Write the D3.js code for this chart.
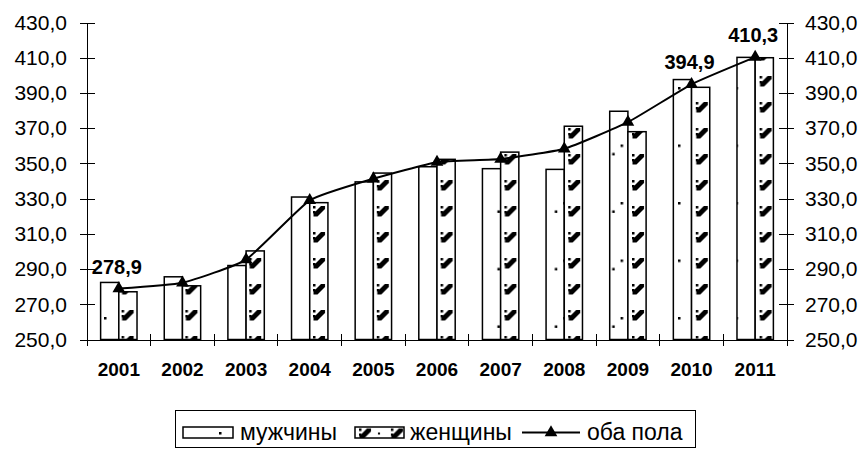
<!DOCTYPE html>
<html>
<head>
<meta charset="utf-8">
<script src="https://d3js.org/d3.v7.min.js"></script>
<style>
    body { margin: 0; background: #fff; }
    text { font-family: "Liberation Sans", Arial, sans-serif; fill: #000; }
    .axis path, .axis line { stroke: #000; stroke-width: 1px; shape-rendering: crispEdges; }
    .axis text { font-size: 21px; }
    .year text { font-size: 19px; font-weight: bold; }
    .bar { stroke: #000; stroke-width: 1.5px; }
    .lbl { font-size: 20px; font-weight: bold; text-anchor: middle; }
    .leg text { font-size: 23px; }
</style>
</head>
<body>
<script>
    // Data
    var years = ["2001", "2002", "2003", "2004", "2005", "2006", "2007", "2008", "2009", "2010", "2011"];
    var men = [282.4, 285.6, 292.0, 330.9, 339.5, 348.1, 347.0, 346.6, 379.6, 397.6, 410.2];
    var women = [277.1, 280.5, 300.3, 327.7, 344.5, 352.3, 356.4, 371.1, 368.0, 393.2, 410.0];
    var both = [278.9, 282.2, 295.4, 329.0, 341.3, 350.7, 352.5, 358.3, 373.4, 394.9, 410.3];
    var yTicks = [250, 270, 290, 310, 330, 350, 370, 390, 410, 430];
    var labelled = ["2001", "2010", "2011"];
    var legendNames = ["мужчины", "женщины", "оба пола"];

    var W = 864, H = 449;
    var fmt = function (v) { return d3.format(".1f")(v).replace(".", ","); };

    var svg = d3.select("body").append("svg")
        .attr("width", W)
        .attr("height", H);

    // patterns (Excel-like fills)
    var defs = svg.append("defs");

    function menPattern(id, px, py) {
        var p = defs.append("pattern")
            .attr("id", id)
            .attr("patternUnits", "userSpaceOnUse")
            .attr("x", px).attr("y", py)
            .attr("width", 57.4).attr("height", 57.5);
        p.append("rect").attr("width", 57.4).attr("height", 57.5).attr("fill", "#fff");
        p.append("rect").attr("x", 0).attr("y", 0).attr("width", 2.5).attr("height", 2.5).attr("fill", "#000");
        p.append("rect").attr("x", 49).attr("y", 8.4).attr("width", 2.5).attr("height", 2.5).attr("fill", "#000");
    }

    function womenPattern(id, px, py) {
        var p = defs.append("pattern")
            .attr("id", id)
            .attr("patternUnits", "userSpaceOnUse")
            .attr("x", px).attr("y", py)
            .attr("width", 31.9).attr("height", 26);
        p.append("rect").attr("width", 31.9).attr("height", 26).attr("fill", "#fff");
        p.append("rect").attr("x", 0).attr("y", 0).attr("width", 2.5).attr("height", 2.5).attr("fill", "#000");
        p.append("rect").attr("x", 0).attr("y", 5).attr("width", 2.5).attr("height", 2.5).attr("fill", "#000");
        p.append("path").attr("d", "M8,0 h4 v3 l-7.5,7.5 h-4 v-3 z").attr("fill", "#000");
        p.append("rect").attr("x", 19).attr("y", 4).attr("width", 2).attr("height", 2).attr("fill", "#000");
        p.append("rect").attr("x", 19).attr("y", 17).attr("width", 2).attr("height", 2).attr("fill", "#000");
    }

    menPattern("pm", 104, 202);
    womenPattern("pw", 313, 154);
    menPattern("pmL", 219, 432);
    womenPattern("pwL", 359, 428.5);

    // scales
    var x = d3.scaleBand().domain(years).range([87, 787]).padding(0);
    var y = d3.scaleLinear().domain([250, 430]).range([339.5, 22.5]);
    var bw = 18.2;
    var cx = function (d) { return x(d) + x.bandwidth() / 2; };

    // bars
    var rows = years.map(function (d, i) { return { year: d, m: men[i], w: women[i], b: both[i] }; });

    svg.append("g").selectAll("rect").data(rows).enter().append("rect")
        .attr("class", "bar")
        .attr("x", function (d) { return cx(d.year) - bw; })
        .attr("y", function (d) { return y(d.m); })
        .attr("width", bw)
        .attr("height", function (d) { return y(250) - y(d.m); })
        .attr("fill", "url(#pm)");

    svg.append("g").selectAll("rect").data(rows).enter().append("rect")
        .attr("class", "bar")
        .attr("x", function (d) { return cx(d.year); })
        .attr("y", function (d) { return y(d.w); })
        .attr("width", bw)
        .attr("height", function (d) { return y(250) - y(d.w); })
        .attr("fill", "url(#pw)");

    // axes
    var gl = svg.append("g").attr("class", "axis")
        .attr("transform", "translate(87,0)")
        .call(d3.axisLeft(y).tickValues(yTicks).tickFormat(fmt).tickSize(0).tickSizeOuter(0).tickPadding(20));
    gl.selectAll(".tick line").attr("x1", -7).attr("x2", 8);

    var gr = svg.append("g").attr("class", "axis")
        .attr("transform", "translate(787,0)")
        .call(d3.axisRight(y).tickValues(yTicks).tickFormat(fmt).tickSize(0).tickSizeOuter(0).tickPadding(18));
    gr.selectAll(".tick line").attr("x1", -8).attr("x2", 7);

    var gx = svg.append("g").attr("class", "axis year")
        .attr("transform", "translate(0," + y(250) + ")")
        .call(d3.axisBottom(x).tickSize(0).tickSizeOuter(0).tickPadding(23));
    gx.selectAll(".tick line").remove();

    // category separators crossing the base line
    var seps = years.map(function (d) { return x(d); }).concat([x.range()[1]]);
    gx.selectAll("line.sep").data(seps).enter().append("line")
        .attr("class", "sep")
        .attr("x1", function (d) { return d; })
        .attr("x2", function (d) { return d; })
        .attr("y1", -6)
        .attr("y2", 6);

    // line for both sexes
    var line = d3.line()
        .x(function (d) { return cx(d.year); })
        .y(function (d) { return y(d.b); })
        .curve(d3.curveCardinal.tension(0.55));

    svg.append("path").datum(rows)
        .attr("d", line)
        .attr("fill", "none")
        .attr("stroke", "#000")
        .attr("stroke-width", 2);

    var tri = d3.symbol().type(d3.symbolTriangle).size(70);
    svg.append("g").selectAll("path").data(rows).enter().append("path")
        .attr("d", tri)
        .attr("transform", function (d) { return "translate(" + cx(d.year) + "," + y(d.b) + ")"; })
        .attr("fill", "#000");

    // value labels
    svg.append("g").selectAll("text").data(rows.filter(function (d) { return labelled.indexOf(d.year) >= 0; }))
        .enter().append("text")
        .attr("class", "lbl")
        .attr("x", function (d) { return cx(d.year) - 2; })
        .attr("y", function (d) { return y(d.b) - 15; })
        .text(function (d) { return fmt(d.b); });

    // legend
    var leg = svg.append("g").attr("class", "leg");
    leg.append("rect")
        .attr("x", 175.5).attr("y", 410.5)
        .attr("width", 520).attr("height", 37)
        .attr("fill", "#fff").attr("stroke", "#000").attr("stroke-width", 1);

    leg.append("rect").attr("class", "bar")
        .attr("x", 183).attr("y", 427).attr("width", 50).attr("height", 11)
        .attr("fill", "url(#pmL)");
    leg.append("text").attr("x", 240).attr("y", 440).text(legendNames[0]);

    leg.append("rect").attr("class", "bar")
        .attr("x", 355).attr("y", 427).attr("width", 49).attr("height", 11)
        .attr("fill", "url(#pwL)");
    leg.append("text").attr("x", 410).attr("y", 440).text(legendNames[1]);

    leg.append("line")
        .attr("x1", 522).attr("x2", 580).attr("y1", 432.5).attr("y2", 432.5)
        .attr("stroke", "#000").attr("stroke-width", 2);
    leg.append("path").attr("d", tri).attr("transform", "translate(551,432.5)").attr("fill", "#000");
    leg.append("text").attr("x", 587).attr("y", 440).text(legendNames[2]);
</script>
</body>
</html>
